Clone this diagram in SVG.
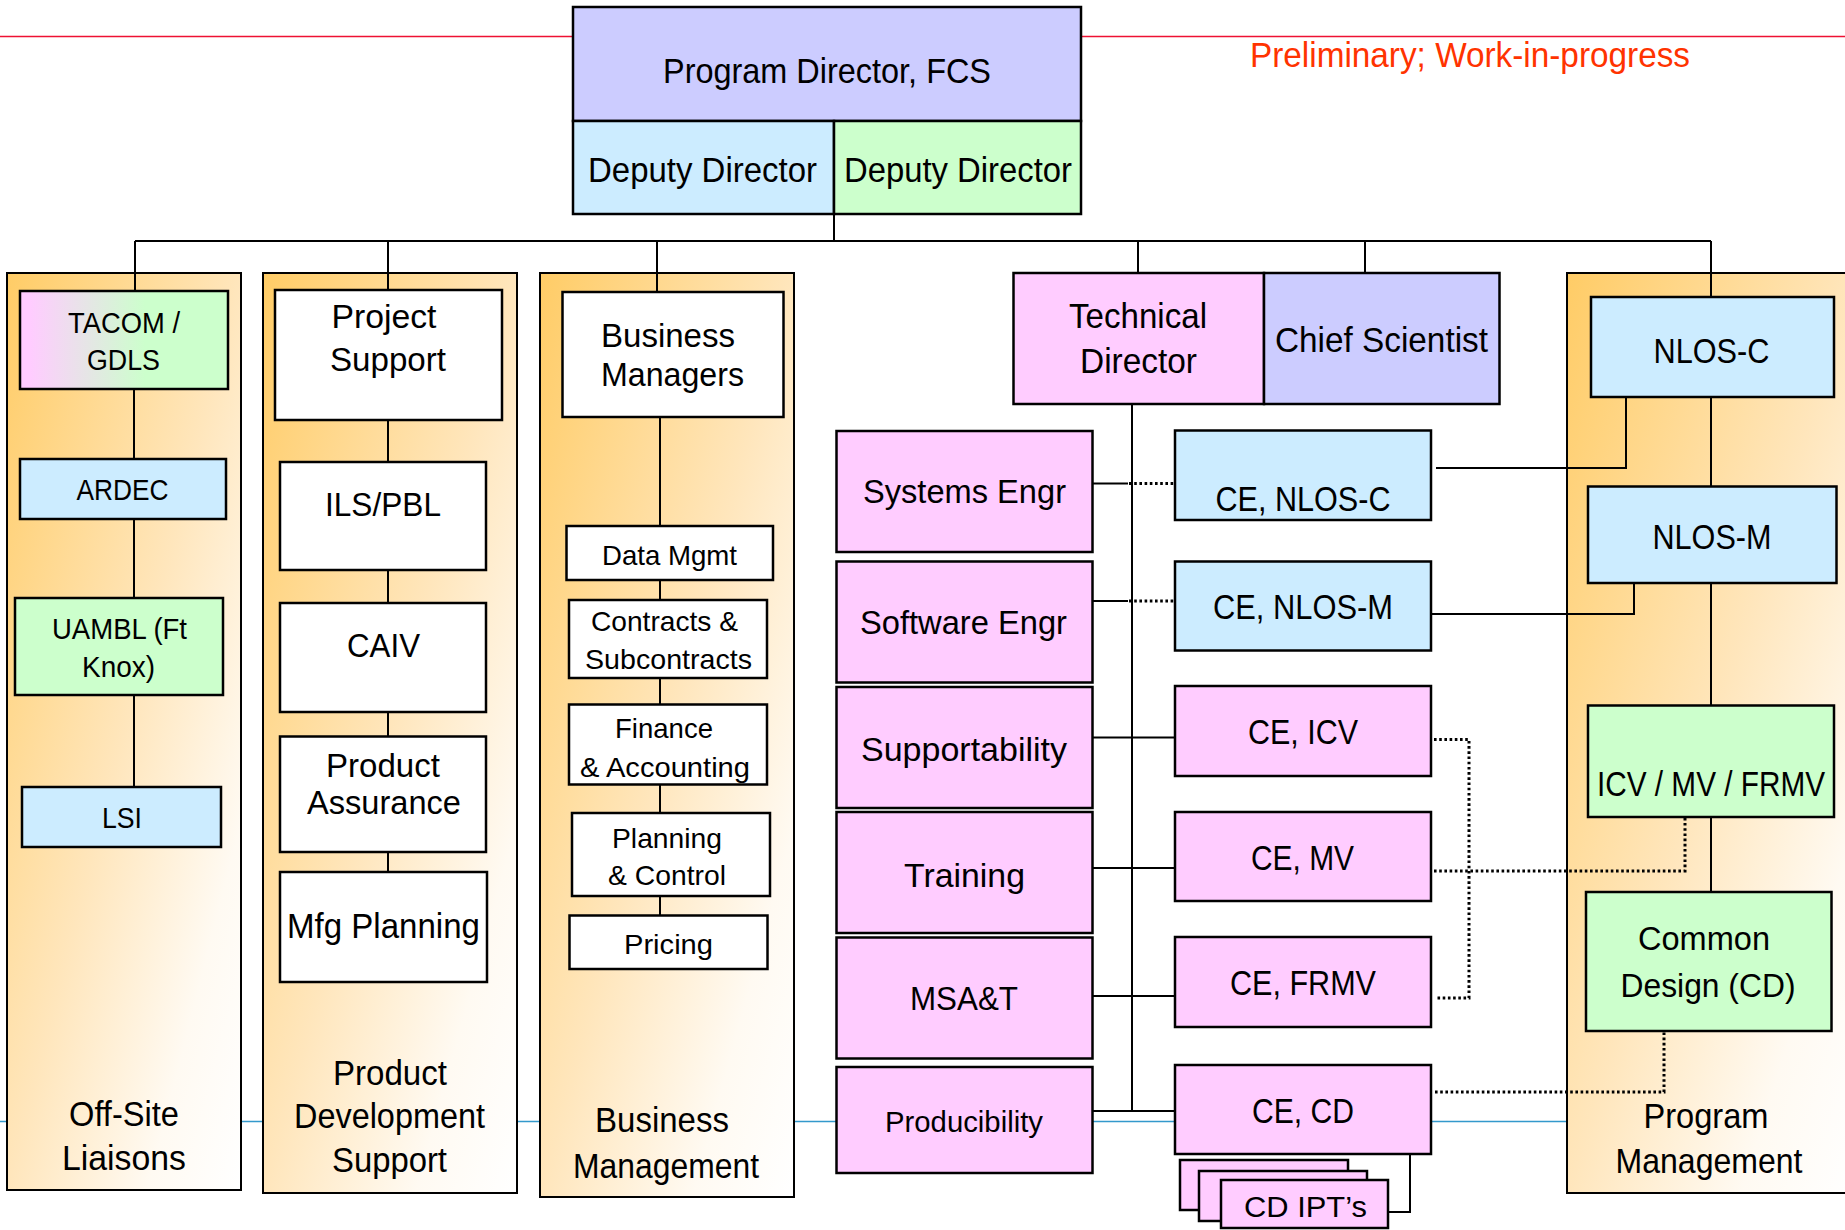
<svg xmlns="http://www.w3.org/2000/svg" width="1845" height="1230" viewBox="0 0 1845 1230">
  <defs>
    <linearGradient id="panelFill" x1="0" y1="0" x2="1" y2="1">
      <stop offset="0" stop-color="#FFCC66"/>
      <stop offset="0.5" stop-color="#FFE6BC"/>
      <stop offset="0.8" stop-color="#FFFAF2"/>
      <stop offset="1" stop-color="#FFFFFF"/>
    </linearGradient>
    <linearGradient id="pinkGreen" x1="0" y1="0" x2="1" y2="0">
      <stop offset="0.05" stop-color="#FFCCFF"/>
      <stop offset="0.6" stop-color="#CCFFCC"/>
    </linearGradient>
    <style>
      .panel { fill: url(#panelFill); stroke: #000; stroke-width: 2; }
      .box { stroke: #000; stroke-width: 2.5; }
      .white { fill: #FFFFFF; }
      .pink { fill: #FFCCFF; }
      .blue { fill: #CCECFF; }
      .lilac { fill: #CCCCFF; }
      .green { fill: #CCFFCC; }
      .link { fill: none; stroke: #000; stroke-width: 2; }
      .dots { fill: none; stroke: #000; stroke-width: 3; stroke-dasharray: 2.6 2.6; }
      .t { font-family: "Liberation Sans", Arial, sans-serif; fill: #000; text-anchor: middle; }
      .f35 { font-size: 35px; }
      .f33 { font-size: 33px; }
      .f30 { font-size: 30px; }
      .f28 { font-size: 28px; }
    </style>
  </defs>

  <!-- slide rules behind the chart -->
  <g id="rules">
    <line x1="0" y1="36.5" x2="1845" y2="36.5" stroke="#EE1133" stroke-width="1.5"/>
    <line x1="0" y1="1121.5" x2="1845" y2="1121.5" stroke="#3399CC" stroke-width="1.5"/>
  </g>

  <!-- status note -->
  <text class="t f35" x="1470" y="67" textLength="440" lengthAdjust="spacingAndGlyphs" style="fill:#FF3300">Preliminary; Work-in-progress</text>

  <!-- group panels -->
  <g id="panel-offsite">
    <rect class="panel" x="7" y="273" width="234" height="917"/>
    <text class="t f35" x="124" y="1126" textLength="110" lengthAdjust="spacingAndGlyphs">Off-Site</text>
    <text class="t f35" x="124" y="1170" textLength="124" lengthAdjust="spacingAndGlyphs">Liaisons</text>
  </g>
  <g id="panel-product-dev">
    <rect class="panel" x="263" y="273" width="254" height="920"/>
    <text class="t f35" x="390" y="1085" textLength="114" lengthAdjust="spacingAndGlyphs">Product</text>
    <text class="t f35" x="389.5" y="1128" textLength="191" lengthAdjust="spacingAndGlyphs">Development</text>
    <text class="t f35" x="389.5" y="1172" textLength="115" lengthAdjust="spacingAndGlyphs">Support</text>
  </g>
  <g id="panel-business">
    <rect class="panel" x="540" y="273" width="254" height="924"/>
    <text class="t f35" x="662" y="1132" textLength="134" lengthAdjust="spacingAndGlyphs">Business</text>
    <text class="t f35" x="666" y="1178" textLength="186" lengthAdjust="spacingAndGlyphs">Management</text>
  </g>
  <g id="panel-program">
    <rect class="panel" x="1567" y="273" width="290" height="920"/>
    <text class="t f35" x="1706" y="1128" textLength="125" lengthAdjust="spacingAndGlyphs">Program</text>
    <text class="t f35" x="1709" y="1173" textLength="187" lengthAdjust="spacingAndGlyphs">Management</text>
  </g>

  <!-- reporting lines, drawn only in the gaps between boxes -->
  <g id="connectors">
    <path class="link" d="M834 214V241M135 241H1711"/>
    <path class="link" d="M135 241V291M134 389V459M134 519V598M134 695V787"/>
    <path class="link" d="M388 241V290M388 420V462M388 570V603M388 712V736.5M388 852V872"/>
    <path class="link" d="M657 241V292M660 417V526M660 580V600M660 678V704.5M660 784.5V813M660 896V915.5"/>
    <path class="link" d="M1138 241V273M1365 241V273"/>
    <path class="link" d="M1711 241V297M1711 397V486.5M1711 583V705.5M1711 817V892"/>
    <path class="link" d="M1132 404V1111"/>
    <path class="link" d="M1092 483.5H1128M1092 601H1128"/>
    <path class="dots" d="M1129 483.5H1175M1129 601H1175"/>
    <path class="link" d="M1092 737.5H1175M1092 868H1175M1092 996H1175"/>
    <path class="link" d="M1092 1111H1175" stroke-width="3.5"/>
    <path class="link" d="M1436 468H1626V397"/>
    <path class="link" d="M1431 614H1634V583"/>
    <path class="dots" d="M1434 739.5H1469V998H1435"/>
    <path class="dots" d="M1434 871H1685V817"/>
    <path class="dots" d="M1435 1092H1664V1031"/>
    <path class="link" d="M1410 1154V1212H1388"/>
  </g>

  <!-- leadership -->
  <g id="node-program-director">
    <rect class="box lilac" x="573" y="7" width="508" height="114"/>
    <text class="t f35" x="827" y="83" textLength="328" lengthAdjust="spacingAndGlyphs">Program Director, FCS</text>
  </g>
  <g id="node-deputy-1">
    <rect class="box blue" x="573" y="121" width="261" height="93"/>
    <text class="t f35" x="702.5" y="182" textLength="229" lengthAdjust="spacingAndGlyphs">Deputy Director</text>
  </g>
  <g id="node-deputy-2">
    <rect class="box green" x="834" y="121" width="247" height="93"/>
    <text class="t f35" x="958" y="182" textLength="228" lengthAdjust="spacingAndGlyphs">Deputy Director</text>
  </g>

  <!-- off-site liaisons -->
  <g id="node-tacom">
    <rect class="box" fill="url(#pinkGreen)" x="20" y="291" width="208" height="98"/>
    <text class="t f30" x="124" y="333" textLength="112" lengthAdjust="spacingAndGlyphs">TACOM /</text>
    <text class="t f30" x="123.5" y="370" textLength="73" lengthAdjust="spacingAndGlyphs">GDLS</text>
  </g>
  <g id="node-ardec">
    <rect class="box blue" x="20" y="459" width="206" height="60"/>
    <text class="t f30" x="122.5" y="500" textLength="92" lengthAdjust="spacingAndGlyphs">ARDEC</text>
  </g>
  <g id="node-uambl">
    <rect class="box green" x="15" y="598" width="208" height="97"/>
    <text class="t f30" x="119.5" y="639" textLength="135" lengthAdjust="spacingAndGlyphs">UAMBL (Ft</text>
    <text class="t f30" x="118.5" y="677" textLength="73" lengthAdjust="spacingAndGlyphs">Knox)</text>
  </g>
  <g id="node-lsi">
    <rect class="box blue" x="22" y="787" width="199" height="60"/>
    <text class="t f30" x="122" y="828" textLength="40" lengthAdjust="spacingAndGlyphs">LSI</text>
  </g>

  <!-- product development support -->
  <g id="node-project-support">
    <rect class="box white" x="275" y="290" width="227" height="130"/>
    <text class="t f33" x="384" y="328" textLength="105" lengthAdjust="spacingAndGlyphs">Project</text>
    <text class="t f33" x="388" y="371" textLength="116" lengthAdjust="spacingAndGlyphs">Support</text>
  </g>
  <g id="node-ils-pbl">
    <rect class="box white" x="280" y="462" width="206" height="108"/>
    <text class="t f33" x="383" y="515.5" textLength="116" lengthAdjust="spacingAndGlyphs">ILS/PBL</text>
  </g>
  <g id="node-caiv">
    <rect class="box white" x="280" y="603" width="206" height="109"/>
    <text class="t f33" x="383.5" y="657" textLength="73" lengthAdjust="spacingAndGlyphs">CAIV</text>
  </g>
  <g id="node-product-assurance">
    <rect class="box white" x="280" y="736.5" width="206" height="115.5"/>
    <text class="t f33" x="383" y="776.5" textLength="114" lengthAdjust="spacingAndGlyphs">Product</text>
    <text class="t f33" x="384" y="814" textLength="154" lengthAdjust="spacingAndGlyphs">Assurance</text>
  </g>
  <g id="node-mfg-planning">
    <rect class="box white" x="280" y="872" width="207" height="110"/>
    <text class="t f35" x="383.5" y="938" textLength="193" lengthAdjust="spacingAndGlyphs">Mfg Planning</text>
  </g>

  <!-- business management -->
  <g id="node-business-managers">
    <rect class="box white" x="562.5" y="292" width="221" height="125"/>
    <text class="t f33" x="668" y="347" textLength="134" lengthAdjust="spacingAndGlyphs">Business</text>
    <text class="t f33" x="672.5" y="386" textLength="143" lengthAdjust="spacingAndGlyphs">Managers</text>
  </g>
  <g id="node-data-mgmt">
    <rect class="box white" x="566.5" y="526" width="206.5" height="54"/>
    <text class="t f28" x="669.5" y="565" textLength="135" lengthAdjust="spacingAndGlyphs">Data Mgmt</text>
  </g>
  <g id="node-contracts">
    <rect class="box white" x="569" y="600" width="198" height="78"/>
    <text class="t f28" x="664.5" y="631" textLength="147" lengthAdjust="spacingAndGlyphs">Contracts &amp;</text>
    <text class="t f28" x="668.5" y="668.5" textLength="167" lengthAdjust="spacingAndGlyphs">Subcontracts</text>
  </g>
  <g id="node-finance">
    <rect class="box white" x="569" y="704.5" width="198" height="80"/>
    <text class="t f28" x="664" y="737.5" textLength="98" lengthAdjust="spacingAndGlyphs">Finance</text>
    <text class="t f28" x="665" y="776.5" textLength="170" lengthAdjust="spacingAndGlyphs">&amp; Accounting</text>
  </g>
  <g id="node-planning">
    <rect class="box white" x="572" y="813" width="198" height="83"/>
    <text class="t f28" x="667" y="847.5" textLength="110" lengthAdjust="spacingAndGlyphs">Planning</text>
    <text class="t f28" x="667" y="885" textLength="118" lengthAdjust="spacingAndGlyphs">&amp; Control</text>
  </g>
  <g id="node-pricing">
    <rect class="box white" x="569.5" y="915.5" width="198" height="53.5"/>
    <text class="t f28" x="668.5" y="954" textLength="89" lengthAdjust="spacingAndGlyphs">Pricing</text>
  </g>

  <!-- technical leadership -->
  <g id="node-technical-director">
    <rect class="box pink" x="1013.5" y="273" width="250.5" height="131"/>
    <text class="t f35" x="1138" y="328" textLength="138" lengthAdjust="spacingAndGlyphs">Technical</text>
    <text class="t f35" x="1138.5" y="373" textLength="117" lengthAdjust="spacingAndGlyphs">Director</text>
  </g>
  <g id="node-chief-scientist">
    <rect class="box lilac" x="1264" y="273" width="235.5" height="131"/>
    <text class="t f35" x="1381.5" y="352" textLength="213" lengthAdjust="spacingAndGlyphs">Chief Scientist</text>
  </g>

  <!-- technical director staff -->
  <g id="node-systems-engr">
    <rect class="box pink" x="836.5" y="431" width="256" height="121"/>
    <text class="t f33" x="964.5" y="503" textLength="203" lengthAdjust="spacingAndGlyphs">Systems Engr</text>
  </g>
  <g id="node-software-engr">
    <rect class="box pink" x="836.5" y="561.5" width="256" height="121"/>
    <text class="t f33" x="963.5" y="634" textLength="207" lengthAdjust="spacingAndGlyphs">Software Engr</text>
  </g>
  <g id="node-supportability">
    <rect class="box pink" x="836.5" y="687" width="256" height="121"/>
    <text class="t f33" x="964" y="760.5" textLength="206" lengthAdjust="spacingAndGlyphs">Supportability</text>
  </g>
  <g id="node-training">
    <rect class="box pink" x="836.5" y="812" width="256" height="121"/>
    <text class="t f33" x="964.5" y="887" textLength="121" lengthAdjust="spacingAndGlyphs">Training</text>
  </g>
  <g id="node-msat">
    <rect class="box pink" x="836.5" y="937.5" width="256" height="121"/>
    <text class="t f33" x="964" y="1010" textLength="108" lengthAdjust="spacingAndGlyphs">MSA&amp;T</text>
  </g>
  <g id="node-producibility">
    <rect class="box pink" x="836.5" y="1067" width="256" height="106"/>
    <text class="t f30" x="964" y="1131.5" textLength="158" lengthAdjust="spacingAndGlyphs">Producibility</text>
  </g>

  <!-- chief engineers -->
  <g id="node-ce-nlos-c">
    <rect class="box blue" x="1175" y="430.5" width="256" height="89.5"/>
    <text class="t f35" x="1303" y="511" textLength="175" lengthAdjust="spacingAndGlyphs">CE, NLOS-C</text>
  </g>
  <g id="node-ce-nlos-m">
    <rect class="box blue" x="1175" y="561.5" width="256" height="89"/>
    <text class="t f35" x="1303" y="619" textLength="180" lengthAdjust="spacingAndGlyphs">CE, NLOS-M</text>
  </g>
  <g id="node-ce-icv">
    <rect class="box pink" x="1175" y="686" width="256" height="90"/>
    <text class="t f35" x="1303" y="744" textLength="110" lengthAdjust="spacingAndGlyphs">CE, ICV</text>
  </g>
  <g id="node-ce-mv">
    <rect class="box pink" x="1175" y="812" width="256" height="89"/>
    <text class="t f35" x="1302.5" y="870" textLength="103" lengthAdjust="spacingAndGlyphs">CE, MV</text>
  </g>
  <g id="node-ce-frmv">
    <rect class="box pink" x="1175" y="937" width="256" height="90"/>
    <text class="t f35" x="1303" y="995" textLength="146" lengthAdjust="spacingAndGlyphs">CE, FRMV</text>
  </g>
  <g id="node-ce-cd">
    <rect class="box pink" x="1175" y="1065" width="256" height="89"/>
    <text class="t f35" x="1303" y="1122.5" textLength="102" lengthAdjust="spacingAndGlyphs">CE, CD</text>
  </g>
  <g id="node-cd-ipts">
    <rect class="box pink" x="1180" y="1160" width="168" height="50"/>
    <rect class="box pink" x="1199" y="1171" width="168" height="50"/>
    <rect class="box pink" x="1221" y="1180" width="167" height="48"/>
    <text class="t f30" x="1305.5" y="1217" textLength="123" lengthAdjust="spacingAndGlyphs">CD IPT’s</text>
  </g>

  <!-- program management -->
  <g id="node-nlos-c">
    <rect class="box blue" x="1591" y="297" width="243" height="100"/>
    <text class="t f35" x="1711.5" y="363" textLength="116" lengthAdjust="spacingAndGlyphs">NLOS-C</text>
  </g>
  <g id="node-nlos-m">
    <rect class="box blue" x="1588" y="486.5" width="248.5" height="96.5"/>
    <text class="t f35" x="1712" y="548.5" textLength="119" lengthAdjust="spacingAndGlyphs">NLOS-M</text>
  </g>
  <g id="node-icv-mv-frmv">
    <rect class="box green" x="1588" y="705.5" width="246" height="111.5"/>
    <text class="t f35" transform="translate(1711 796) scale(0.85 1)" x="0" y="0">ICV / MV / FRMV</text>
  </g>
  <g id="node-common-design">
    <rect class="box green" x="1586" y="892" width="245.5" height="139"/>
    <text class="t f33" x="1704" y="950" textLength="132" lengthAdjust="spacingAndGlyphs">Common</text>
    <text class="t f33" x="1708" y="997" textLength="175" lengthAdjust="spacingAndGlyphs">Design (CD)</text>
  </g>
</svg>
